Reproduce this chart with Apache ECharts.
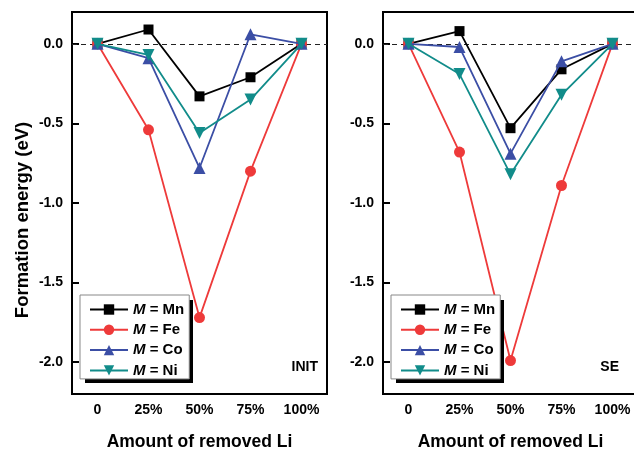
<!DOCTYPE html>
<html>
<head>
<meta charset="utf-8">
<script src="https://cdn.jsdelivr.net/npm/echarts@6/dist/echarts.min.js"></script>
<style>
  html, body { margin: 0; padding: 0; background: #fff; }
  #chart { width: 634px; height: 451px; }
</style>
</head>
<body>
<div id="chart"></div>
<script>
// Delithiation stages (x categories)
const categories = ['0', '25%', '50%', '75%', '100%'];
// Y-axis tick values (eV)
const yTicks = [-2.0, -1.5, -1.0, -0.5, 0.0];
const metals = ['Mn', 'Fe', 'Co', 'Ni'];

// Formation energies, INIT panel (eV)
const initMn = [0, 0.09, -0.33, -0.21, 0];
const initFe = [0, -0.54, -1.72, -0.80, 0];
const initCo = [0, -0.09, -0.78, 0.06, 0];
const initNi = [0, -0.07, -0.56, -0.35, 0];

// Formation energies, SE panel (eV)
const seMn = [0, 0.08, -0.53, -0.16, 0];
const seFe = [0, -0.68, -1.99, -0.89, 0];
const seCo = [0, -0.02, -0.69, -0.11, 0];
const seNi = [0, -0.19, -0.82, -0.32, 0];

const panelTags = ['INIT', 'SE'];
const xTitle = 'Amount of removed Li';
const yTitle = 'Formation energy (eV)';

const FONT = '"Liberation Sans", Arial, sans-serif';
const colors = { Mn: '#000000', Fe: '#ee3a3a', Co: '#3b4ea5', Ni: '#118c8a' };
const symbols = {
  Mn: { symbol: 'rect', symbolSize: 10, symbolRotate: 0 },
  Fe: { symbol: 'circle', symbolSize: 11, symbolRotate: 0 },
  Co: { symbol: 'triangle', symbolSize: 12, symbolRotate: 0 },
  Ni: { symbol: 'triangle', symbolSize: 12, symbolRotate: 180 }
};

const panels = [
  { Mn: initMn, Fe: initFe, Co: initCo, Ni: initNi },
  { Mn: seMn, Fe: seFe, Co: seCo, Ni: seNi }
];

const grids = [
  { left: 72, top: 12, width: 255, height: 382 },
  { left: 383, top: 12, width: 255, height: 382 }
];

const boldText = { fontFamily: FONT, fontWeight: 'bold', color: '#000' };

const xAxes = grids.map((g, i) => ({
  type: 'category',
  gridIndex: i,
  data: categories,
  boundaryGap: true,
  axisLine: { onZero: false, lineStyle: { color: '#000', width: 2 } },
  axisTick: { inside: true, alignWithLabel: true, length: 7, lineStyle: { color: '#000', width: 2 } },
  axisLabel: Object.assign({ fontSize: 14, margin: 9 }, boldText),
  splitLine: { show: false },
  name: xTitle,
  nameLocation: 'middle',
  nameGap: 39,
  nameTextStyle: Object.assign({ fontSize: 17.5 }, boldText)
}));

const yAxes = grids.map((g, i) => ({
  type: 'value',
  gridIndex: i,
  min: -2.2,
  max: 0.2,
  axisLine: { show: true, onZero: false, lineStyle: { color: '#000', width: 2 } },
  axisTick: { show: true, inside: true, length: 7, customValues: yTicks, lineStyle: { color: '#000', width: 2 } },
  axisLabel: Object.assign({
    fontSize: 14, margin: 9, customValues: yTicks,
    formatter: v => v.toFixed(1)
  }, boldText),
  splitLine: { show: false }
}));

const series = [];
panels.forEach((p, i) => {
  metals.forEach((m, k) => {
    const s = {
      name: m,
      type: 'line',
      xAxisIndex: i,
      yAxisIndex: i,
      data: p[m],
      color: colors[m],
      symbol: symbols[m].symbol,
      symbolSize: symbols[m].symbolSize,
      symbolRotate: symbols[m].symbolRotate,
      showAllSymbol: true,
      lineStyle: { width: 1.8, color: colors[m] },
      itemStyle: { color: colors[m] },
      z: 3 + k,
      animation: false
    };
    if (k === 0) {
      // zero reference line
      s.markLine = {
        silent: true,
        symbol: 'none',
        label: { show: false },
        lineStyle: { color: '#222', width: 1, type: [5, 4] },
        data: [{ yAxis: 0 }],
        z: 1
      };
    }
    series.push(s);
  });
});

// Legend boxes (one per panel) with a solid drop shadow behind each
const legendBoxes = [{ left: 80, top: 295 }, { left: 391, top: 295 }];
const legendW = 108, legendH = 83, shadowOff = 5;
const legends = legendBoxes.map(b => ({
  data: metals,
  orient: 'vertical',
  left: b.left,
  top: b.top,
  itemWidth: 38,
  itemHeight: 13,
  itemGap: 5.3,
  padding: [7, 5, 1, 9],
  backgroundColor: '#fff',
  borderColor: '#888',
  borderWidth: 1,
  selectedMode: false,
  inactiveColor: '#000',
  z: 10,
  formatter: name => '{i|M}{t| = ' + name + '}',
  textStyle: {
    rich: {
      i: { fontFamily: FONT, fontWeight: 'bold', fontStyle: 'italic', fontSize: 15, color: '#000', lineHeight: 16 },
      t: { fontFamily: FONT, fontWeight: 'bold', fontSize: 15, color: '#000', lineHeight: 16 }
    }
  }
}));

const shadowRects = legendBoxes.map(b => ({
  type: 'rect',
  z: 5,
  shape: { x: b.left + shadowOff, y: b.top + shadowOff, width: legendW, height: legendH },
  style: { fill: '#000' }
}));

const option = {
  backgroundColor: '#fff',
  animation: false,
  grid: grids.map(g => Object.assign({
    show: true, borderColor: '#000', borderWidth: 2, backgroundColor: 'transparent',
    containLabel: false, outerBoundsMode: 'none'
  }, g)),
  xAxis: xAxes,
  yAxis: yAxes,
  legend: legends,
  series: series,
  graphic: shadowRects.concat([
    {
      type: 'text', x: 23, y: 220, rotation: Math.PI / 2,
      style: { text: yTitle, fontSize: 18.5, fontFamily: FONT, fontWeight: 'bold', align: 'center', verticalAlign: 'middle', fill: '#000' }
    },
    {
      type: 'text', x: 318, y: 367,
      style: { text: panelTags[0], fontSize: 14, fontFamily: FONT, fontWeight: 'bold', align: 'right', verticalAlign: 'middle', fill: '#000' }
    },
    {
      type: 'text', x: 619, y: 367,
      style: { text: panelTags[1], fontSize: 14, fontFamily: FONT, fontWeight: 'bold', align: 'right', verticalAlign: 'middle', fill: '#000' }
    }
  ])
};

const chart = echarts.init(document.getElementById('chart'), null, { renderer: 'canvas' });
chart.setOption(option);
</script>
</body>
</html>
